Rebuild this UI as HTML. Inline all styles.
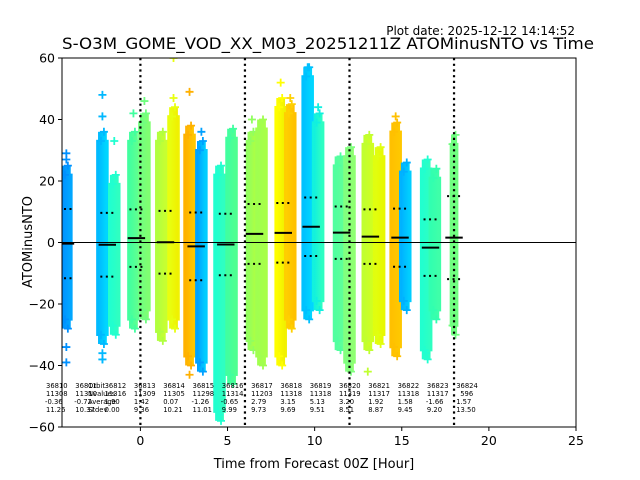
<!DOCTYPE html>
<html><head><meta charset="utf-8"><style>
html,body{margin:0;padding:0;background:#fff;}
svg{display:block;font-family:"DejaVu Sans","Liberation Sans",sans-serif;}
</style></head><body>
<svg id="chart" width="640" height="480" viewBox="0 0 640 480" xmlns="http://www.w3.org/2000/svg">
<defs><clipPath id="plotclip"><rect x="62" y="58" width="514" height="369"/></clipPath></defs>
<text x="575" y="35" font-size="12" text-anchor="end">Plot date: 2025-12-12 14:14:52</text>
<text x="62" y="49" font-size="16.2" textLength="532" lengthAdjust="spacingAndGlyphs">S-O3M_GOME_VOD_XX_M03_20251211Z ATOMinusNTO vs Time</text>
<g id="plot" clip-path="url(#plotclip)"></g>
<g id="axes"></g>
<text x="314" y="468" font-size="13" text-anchor="middle">Time from Forecast 00Z [Hour]</text>
<text x="32" y="242" font-size="13" text-anchor="middle" transform="rotate(-90 32 242)">ATOMinusNTO</text>
</svg>
<script>
// strips (orbit point clouds)
const stripHours = [-4.25,-2.18,-1.5,-0.4,0.23,1.2,1.9,2.82,3.5,4.54,5.23,6.4,6.95,8.05,8.6,9.6,10.2,11.4,12.0,13.05,13.7,14.65,15.2,16.4,16.9,18.0];
const stripTop =    [25,36,22,36,42,36,44,38,33,25,37,36,40,47,45,57,42,28,31,35,31,39,26,27,24,35];
const stripBottom = [-28,-33,-30,-28,-25,-32,-28,-40,-42,-58,-46,-35,-40,-40,-28,-25,-22,-35,-42,-35,-33,-37,-22,-38,-25,-30];
const stripColorL = ["#0090ff","#00b8ff","#20ffd0","#40ffa0","#70ff80","#b0ff40","#e8ff10","#ffb000","#00a0ff","#20ffd0","#40ffa0","#90ff60","#a0ff50","#ffff00","#ffd000","#00c0ff","#10f0e0","#50ffa0","#80ff80","#c0ff30","#e0ff10","#ffc000","#00b0ff","#20ffd0","#30ffb0","#70ff80"];
const stripColorR = ["#00a8ff","#00d8ff","#30ffc0","#60ff90","#80ff70","#c8ff30","#f0f000","#ffc800","#00d0ff","#30ffc0","#50ff90","#b0ff40","#a8ff48","#f0f000","#ffc000","#00d8ff","#30ffc0","#60ff98","#90ff70","#d0ff20","#e8f800","#ffc800","#00d0ff","#30ffc0","#40ffa8","#70ff80"];
const outlierStrip = [0,0,0,1,1,1,1,2,3,4,6,6,7,7,8,9,11,13,14,15,16,19,21,23,0,1];
const outlierValue = [29,-34,-39,48,41,-36,-38,33,42,46,47,60,49,-43,36,-56,40,52,47,57,44,-42,41,-36,27,-38];
// group statistics
const groupHours = [-4.3,-1.9,-0.23,1.44,3.2,4.9,6.55,8.2,9.8,11.55,13.2,14.9,16.65,18.0];
const groupMean = [-0.36,-0.72,1.42,0.07,-1.26,-0.65,2.79,3.15,5.13,3.20,1.92,1.58,-1.66,1.57];
const groupStd = [11.26,10.37,9.36,10.21,11.01,9.99,9.73,9.69,9.51,8.51,8.87,9.45,9.20,13.50];
const orbitLabels = ["36810","36811","36812","36813","36814","36815","36816","36817","36818","36819","36820","36821","36822","36823","36824"];
const nvalLabels = ["11308","11310","11316","11309","11305","11298","11314","11203","11318","11318","11319","11317","11318","11317","596"];
const avgLabels = ["-0.36","-0.72","1.90","1.42","0.07","-1.26","-0.65","2.79","3.15","5.13","3.20","1.92","1.58","-1.66","1.57"];
const stdLabels = ["11.26","10.37","0.00","9.36","10.21","11.01","9.99","9.73","9.69","9.51","8.51","8.87","9.45","9.20","13.50"];
const xTicks = [0,5,10,15,20,25];
const yTicks = [-60,-40,-20,0,20,40,60];
const dayLines = [0,6,12,18];

const NS="http://www.w3.org/2000/svg";
const X0=62,X1=576,Y0=58,Y1=427,XMIN=-4.5,XMAX=25,YMIN=-60,YMAX=60;
const xs=v=>X0+(v-XMIN)/(XMAX-XMIN)*(X1-X0);
const ys=v=>Y1-(v-YMIN)/(YMAX-YMIN)*(Y1-Y0);
function mk(tag,attrs,parent){const e=document.createElementNS(NS,tag);for(const k in attrs)e.setAttribute(k,attrs[k]);parent.appendChild(e);return e;}
const svg=document.getElementById('chart');
const defs=svg.querySelector('defs');
const plot=document.getElementById('plot');
const axes=document.getElementById('axes');
const SW=0.72; // strip width in hours

stripHours.forEach((h,i)=>{
  const g=mk('linearGradient',{id:'sg'+i,x1:'0',x2:'1',y1:'0',y2:'0'},defs);
  mk('stop',{offset:'0',"stop-color":stripColorL[i]},g);
  mk('stop',{offset:'1',"stop-color":stripColorR[i]},g);
  const w=(i===25)?0.5:SW;
  const top=ys(stripTop[i]), bot=ys(stripBottom[i]);
  const r=mk('rect',{x:xs(h-w/2),y:top+8,width:xs(w)-xs(0),height:bot-top-16,fill:'url(#sg'+i+')'},plot);
  
  
  const r2=mk('rect',{x:xs(h-w*0.35),y:top,width:(xs(w)-xs(0))*0.7,height:bot-top,fill:'url(#sg'+i+')'},plot);
  
  
  [stripTop[i],stripTop[i]-3,stripBottom[i],stripBottom[i]+3].forEach((v,j)=>{
    const cx=xs(h)+((j%2)?-1.5:1.5), cy=ys(v);
    const p=mk('path',{d:`M${cx-4},${cy}H${cx+4}M${cx},${cy-4}V${cy+4}`,stroke:stripColorL[i],"stroke-width":1.8},plot);
    
    
  });
});
outlierStrip.forEach((s,i)=>{
  const cx=xs(stripHours[s]), cy=ys(outlierValue[i]);
  const p=mk('path',{d:`M${cx-4},${cy}H${cx+4}M${cx},${cy-4}V${cy+4}`,stroke:stripColorL[s],"stroke-width":1.8},plot);
  
  
});
const zl=mk('line',{x1:X0,x2:X1,y1:ys(0),y2:ys(0),stroke:'#000',"stroke-width":1},plot);


dayLines.forEach(d=>{
  const l=mk('line',{x1:xs(d),x2:xs(d),y1:Y0,y2:Y1,stroke:'#000',"stroke-width":2.2,"stroke-dasharray":"2.2 3.5"},plot);
  
  
});
groupHours.forEach((h,i)=>{
  const m=mk('line',{x1:xs(h-0.5),x2:xs(h+0.5),y1:ys(groupMean[i]),y2:ys(groupMean[i]),stroke:'#000',"stroke-width":2},plot);
  
  
  [groupMean[i]+groupStd[i],groupMean[i]-groupStd[i]].forEach(v=>{
    const d=mk('line',{x1:xs(h-0.4),x2:xs(h+0.45),y1:ys(v),y2:ys(v),stroke:'#000',"stroke-width":2,"stroke-dasharray":"2 3.5"},plot);
    
    
  });
});
const fr=mk('rect',{x:X0,y:Y0,width:X1-X0,height:Y1-Y0,fill:'none',stroke:'#000',"stroke-width":1},axes);


xTicks.forEach(t=>{
  const x=xs(t);
  const tk=mk('line',{x1:x,x2:x,y1:Y1,y2:Y1+4,stroke:'#000'},axes);
  
  
  const tx=mk('text',{x:x,y:Y1+18,"font-size":12.5,"text-anchor":"middle"},axes);
  tx.textContent=(t<0?'\u2212'+(-t):t);
  
  
});
yTicks.forEach(t=>{
  const y=ys(t);
  const tk=mk('line',{x1:X0-4,x2:X0,y1:y,y2:y,stroke:'#000'},axes);
  
  
  const tx=mk('text',{x:X0-7,y:y+4.5,"font-size":12.5,"text-anchor":"end"},axes);
  tx.textContent=(t<0?'\u2212'+(-t):t);
  
  
});
const rowsY=[388,396,404,412];
orbitLabels.forEach((o,i)=>{
  const x=46+i*29.3;
  [o,nvalLabels[i],avgLabels[i],stdLabels[i]].forEach((s,j)=>{
    const t=mk('text',{x:x+(j===1&&s.length<5?4:0)-(j>=2&&s.length===5&&s[0]==='-'?1:0),y:rowsY[j],"font-size":6.8},svg);
    t.textContent=s;
    
    
  });
});
['Orbit','Nvalues','Average','Stdev'].forEach((s,j)=>{
  const t=mk('text',{x:88,y:rowsY[j],"font-size":6.8},svg);
  t.textContent=s;
  
  
});
</script>
</body></html>
